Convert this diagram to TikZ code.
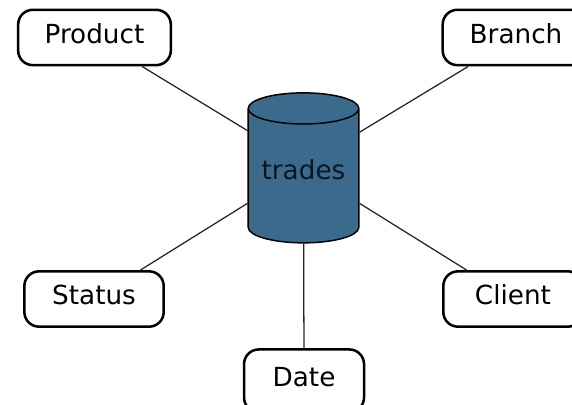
\documentclass[tikz,border=0pt]{standalone}
\usepackage{fontspec}
\setmainfont{DejaVu Sans}
\usetikzlibrary{shapes.geometric}
\definecolor{tradesblue}{HTML}{3B6A8C}
\definecolor{tradesink}{HTML}{0A1722}
\tikzstyle{dimension} = [rectangle, rounded corners=11pt, minimum height=41.5pt, inner sep=0pt, text centered, text height=14.5pt, text depth=6pt, draw=black, line width=1.9pt, fill=white, font=\fontsize{19.7}{23}\selectfont]
\tikzstyle{facts} = [cylinder, shape border rotate=90, shape aspect=0.372, minimum width=83pt, minimum height=112.5pt, inner sep=0pt, text depth=9pt, draw=black, line width=1.1pt, fill=tradesblue, text=tradesink, font=\fontsize{19.7}{23}\selectfont]
\tikzstyle{link} = [line width=0.95pt, draw=black!85]

\begin{document}
\begin{tikzpicture}[x=0.75pt,y=-0.75pt]
		\useasboundingbox (0,0) rectangle (572,404);
		\node (trades) [facts] at (303.5,176) {trades};
		\node (date) [dimension, minimum width=90pt, minimum height=47pt, below of=trades, node distance=153.6pt, xshift=0.4pt] {Date};
		\node (product) [dimension, minimum width=114.5pt, above of=trades, node distance=103.9pt, xshift=-156.75pt] {Product};
		\node (branch) [dimension, minimum width=110pt, above of=trades, node distance=103.9pt, xshift=159.4pt] {Branch};
		\node (status) [dimension, minimum width=104.5pt, below of=trades, node distance=92.25pt, xshift=-157.1pt] {Status};
		\node (client) [dimension, minimum width=104.5pt, below of=trades, node distance=92.25pt, xshift=157.1pt] {Client};

		\draw [link] (product) -- (trades.141.6);
		\draw [link] (branch) -- (trades.38.4);
		\draw [link] (status) -- (trades.206);
		\draw [link] (client) -- (trades.334);
		\draw [link] (date) -- (trades);
		\end{tikzpicture}
\end{document}
